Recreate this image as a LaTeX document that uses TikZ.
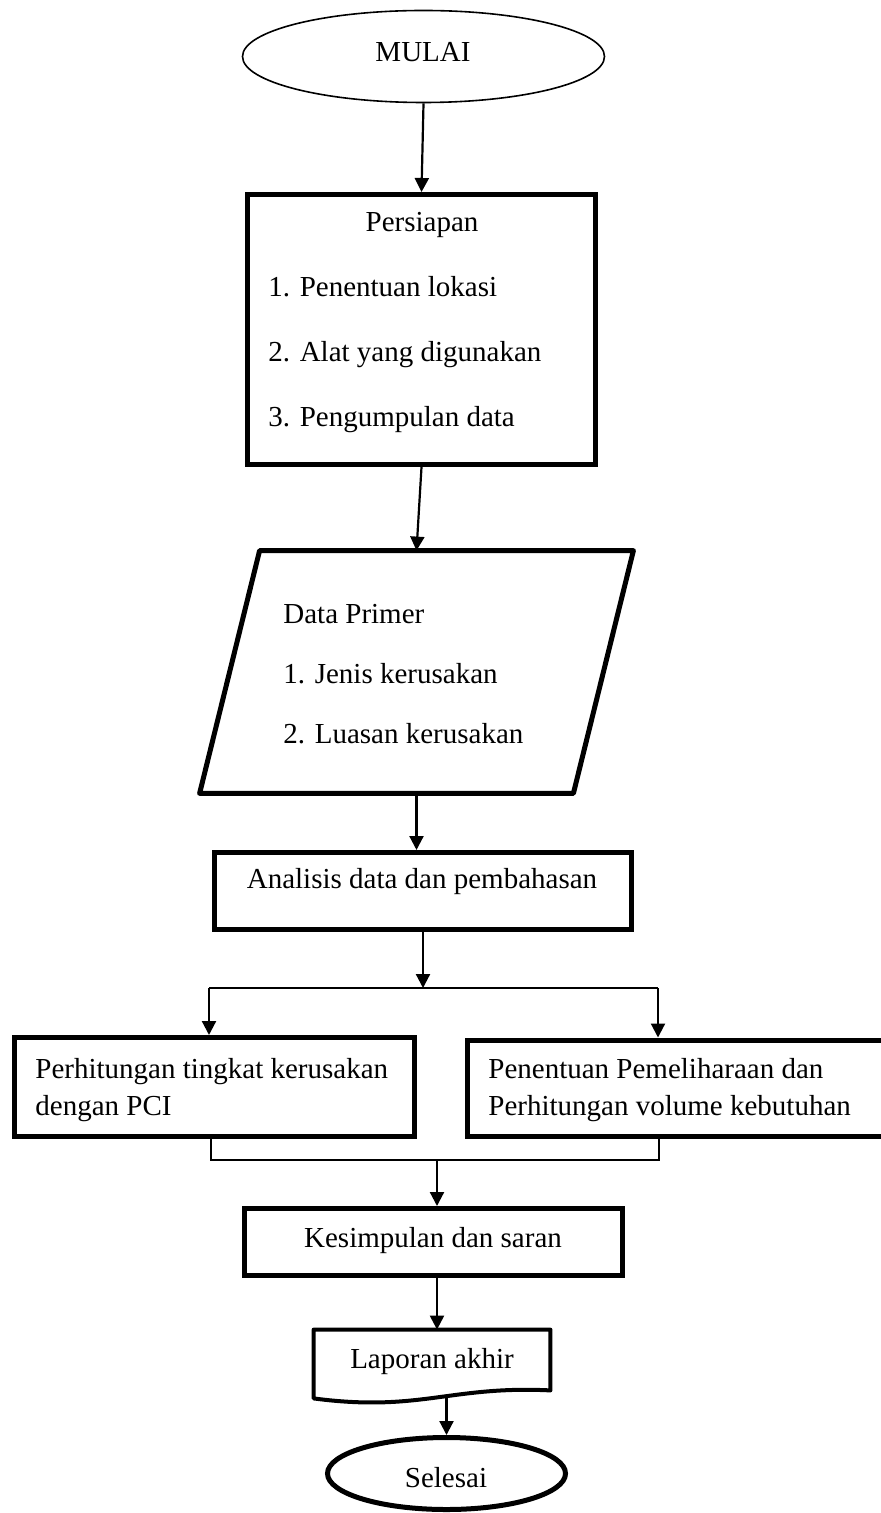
\documentclass[tikz,border=0pt]{standalone}
\usepackage{fontspec}
\setmainfont{Liberation Serif}
\usetikzlibrary{shapes.geometric,arrows.meta}

\tikzset{
  flowbox/.style={draw,line width=2.5pt,inner sep=0pt},
  term/.style={draw,ellipse,inner sep=0pt},
  lbl/.style={inner sep=0pt,anchor=base},
  lbll/.style={inner sep=0pt,anchor=base west},
  flow/.style={line width=1.1pt,-{Triangle[length=7pt,width=7pt]}},
  joint/.style={line width=0.6pt}
}

\begin{document}
\begin{tikzpicture}[x=0.5pt,y=-0.5pt,font=\fontsize{14.5}{17}\selectfont]
      \useasboundingbox (0,0) rectangle (881,1513);
      \node[term,line width=0.8pt,minimum width=181pt,minimum height=46pt] (mulai) at (423.5,56.5) {};
      \node[flowbox,minimum width=174pt,minimum height=135pt] (prep) at (421.5,329.5) {};
      \node[inner sep=0pt,minimum width=216.5pt,minimum height=121pt] (dprim) at (416.5,672) {};
      \draw[line width=2.5pt,line join=round] ([xshift=30pt]dprim.north west) -- (dprim.north east) -- ([xshift=-30pt]dprim.south east) -- (dprim.south west) -- cycle;
      \node[flowbox,minimum width=208.5pt,minimum height=38.5pt] (anal) at (423,891) {};
      \node[flowbox,minimum width=200pt,minimum height=49.5pt] (pci) at (214.5,1087) {};
      \node[flowbox,minimum width=214pt,minimum height=48pt] (pelih) at (681,1088) {};
      \node[flowbox,minimum width=189pt,minimum height=33.5pt] (simp) at (433.5,1242) {};
      \node[inner sep=0pt,minimum width=118pt,minimum height=30pt] (lapor) at (432,1360) {};
      \draw[line width=2pt,line join=round] ([yshift=-4pt]lapor.south west) -- (lapor.north west) -- (lapor.north east) -- (lapor.south east) .. controls +(-100,-5) and +(106,14) .. ([yshift=-4pt]lapor.south west) -- cycle;
      \node[term,line width=2.5pt,minimum width=119pt,minimum height=36pt] (selesai) at (446.5,1473.5) {};
      \node[lbl] (tmulai) at (423,62) {MULAI};
      \node[lbl] (tprep) at (422,232) {Persiapan};
      \node[lbll] (tprep1) at (268,297) {1. Penentuan lokasi};
      \node[lbll] (tprep2) at (268,362) {2. Alat yang digunakan};
      \node[lbll] (tprep3) at (268,427) {3. Pengumpulan data};
      \node[lbll] (tdata) at (283,623) {Data Primer};
      \node[lbll] (tdata1) at (283,683) {1. Jenis kerusakan};
      \node[lbll] (tdata2) at (283,743) {2. Luasan kerusakan};
      \node[lbl] (tanal) at (422,888) {Analisis data dan pembahasan};
      \node[lbll] (tpci1) at (35,1078) {Perhitungan tingkat kerusakan};
      \node[lbll] (tpci2) at (35,1115) {dengan PCI};
      \node[lbll] (tpel1) at (488,1078) {Penentuan Pemeliharaan dan};
      \node[lbll] (tpel2) at (488,1115) {Perhitungan volume kebutuhan};
      \node[lbl] (tsimp) at (433,1247) {Kesimpulan dan saran};
      \node[lbl] (tlapor) at (432,1368) {Laporan akhir};
      \node[lbl] (tselesai) at (446,1487) {Selesai};
      \coordinate (split) at (423,988);
      \coordinate (splitl) at (209,988);
      \coordinate (splitr) at (658,988);
      \coordinate (mergel) at (211,1160);
      \coordinate (merger) at (659,1160);
      \coordinate (merge) at (437,1160);
      \coordinate (lapbot) at (446.5,1396);
      \draw[flow] (mulai.south) -- (prep.north);
      \draw[flow] (prep.south) -- (dprim.north);
      \draw[flow] (dprim.south) -- (dprim.south |- anal.north);
      \draw[flow] (anal.south) -- (split);
      \draw[joint] (splitl) -- (splitr);
      \draw[flow] (splitl) -- (splitl |- pci.north);
      \draw[flow] (splitr) -- (splitr |- pelih.north);
      \draw[joint] (mergel |- pci.south) -- (mergel) -- (merger) -- (merger |- pelih.south);
      \draw[flow] (merge) -- (merge |- simp.north);
      \draw[flow] (merge |- simp.south) -- (merge |- lapor.north);
      \draw[flow] (lapbot) -- (selesai.north);
    \end{tikzpicture}
\end{document}
